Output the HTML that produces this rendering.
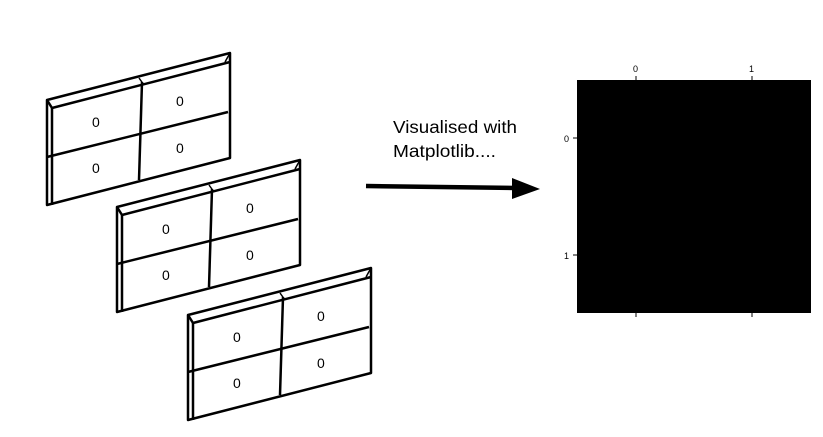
<!DOCTYPE html>
<html><head><meta charset="utf-8"><style>
html,body{margin:0;padding:0;background:#fff;}
svg{display:block;}
</style></head><body>
<svg width="823" height="437" viewBox="0 0 823 437" xmlns="http://www.w3.org/2000/svg">
<defs>
<g id="panel" fill="none" stroke="#000" stroke-width="2.5" stroke-linejoin="round">
  <polygon points="47,100 230,53 230,158 47,205" fill="#fff"/>
  <line x1="52" y1="108" x2="52" y2="205"/>
  <line x1="47" y1="100" x2="52" y2="108"/>
  <line x1="52" y1="108" x2="230" y2="62"/>
  <line x1="230" y1="53" x2="225" y2="62" stroke-width="1.5"/>
  <line x1="139" y1="78" x2="144" y2="85" stroke-width="1.5"/>
  <line x1="145" y1="84" x2="228" y2="62" stroke-width="1" stroke-dasharray="2,1"/>
  <line x1="47" y1="157" x2="228" y2="112"/>
  <line x1="142" y1="82" x2="139" y2="180"/>
  <g font-family="Liberation Sans, sans-serif" font-size="14" fill="#000" stroke="none">
    <text x="92" y="127">0</text>
    <text x="176" y="106">0</text>
    <text x="92" y="173">0</text>
    <text x="176" y="153">0</text>
  </g>
</g>
</defs>
<use href="#panel"/>
<use href="#panel" transform="translate(70,107)"/>
<use href="#panel" transform="translate(141,215)"/>

<g font-family="Liberation Sans, sans-serif" font-size="17.5" fill="#000">
  <text x="393" y="133" textLength="124" lengthAdjust="spacingAndGlyphs">Visualised with</text>
  <text x="393" y="157" textLength="103" lengthAdjust="spacingAndGlyphs">Matplotlib....</text>
</g>
<line x1="366" y1="186" x2="516" y2="188" stroke="#000" stroke-width="4.5"/>
<polygon points="512,178 540,189 512,199" fill="#000"/>

<rect x="577" y="80" width="234" height="233" fill="#000"/>
<g stroke="#000" stroke-width="1">
  <line x1="636" y1="76" x2="636" y2="80"/>
  <line x1="752" y1="76" x2="752" y2="80"/>
  <line x1="636" y1="313" x2="636" y2="317"/>
  <line x1="752" y1="313" x2="752" y2="317"/>
  <line x1="573" y1="138" x2="577" y2="138"/>
  <line x1="573" y1="255" x2="577" y2="255"/>
</g>
<g font-family="Liberation Sans, sans-serif" font-size="9" fill="#000">
  <text x="633" y="72">0</text>
  <text x="749" y="72">1</text>
  <text x="564" y="142">0</text>
  <text x="564" y="259">1</text>
</g>
</svg>
</body></html>
